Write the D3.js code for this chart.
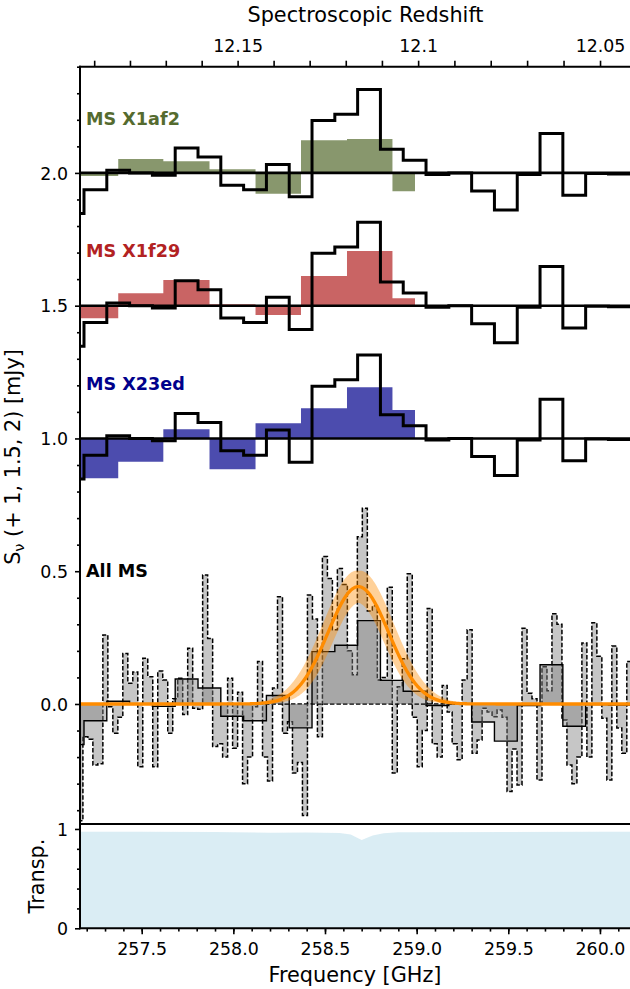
<!DOCTYPE html>
<html lang="en">
<head>
<meta charset="UTF-8">
<script src="https://d3js.org/d3.v7.min.js"></script>
<title>Stacked spectrum</title>
<style>
    body { margin: 0; background: #fff; }
    text { font-family: "DejaVu Sans", sans-serif; }
</style>
</head>
<body>
<div id="chart"></div>
<script>
// ---- data ----
// stacked spectrum, coarse bins (mJy)
const binStart = 257.0608, binWidth = 0.1244;
const stackBinned = [-0.153, -0.063, 0.01, 0.0, -0.009, 0.094, 0.06, -0.046, -0.063, 0.032,
    -0.09, 0.197, 0.221, 0.314, 0.089, 0.048, -0.006, 0.0, -0.068, -0.14,
    -0.006, 0.148, -0.084, -0.002, -0.004];

// individual sources (coarser bins, stop at ~259 GHz)
const srcEdges = [257.124, 257.372, 257.618, 257.870, 258.121, 258.369, 258.620, 258.868, 258.991];
const srcNames = ["MS X1af2", "MS X1f29", "MS X23ed"];
const srcOffsets = [2.0, 1.5, 1.0];
const srcColors = ["#556b2f", "#b22222", "#00008b"];
const fluxX1af2 = [-0.012, 0.052, 0.044, 0.014, -0.078, 0.123, 0.128, -0.069];
const fluxX1f29 = [-0.047, 0.047, 0.097, 0.005, -0.035, 0.112, 0.206, 0.028];
const fluxX23ed = [-0.15, -0.088, 0.035, -0.116, 0.057, 0.114, 0.193, 0.107];

// stacked spectrum at native channel width
const fineStart = 257.1520, fineWidth = 0.027223;
const stackFine = [-0.44, -0.123, -0.133, -0.23, -0.225, 0.26, -0.01, -0.11, -0.05, 0.19,
    0.078, 0.12, -0.236, 0.172, 0.103, -0.236, 0.124, 0.09, -0.11, 0.02,
    0.097, -0.04, 0.21, -0.016, -0.02, 0.486, 0.247, -0.16, -0.15, -0.2,
    0.097, -0.167, 0.044, -0.3, -0.2, -0.01, 0.16, -0.2, -0.29, 0.06,
    0.404, -0.11, -0.067, -0.26, -0.22, -0.42, 0.41, 0.32, -0.123, 0.555,
    0.473, 0.28, 0.51, 0.45, 0.2, 0.11, 0.63, 0.737, 0.35, 0.37,
    0.09, 0.1, 0.44, -0.26, 0.065, 0.17, 0.49, -0.05, -0.236, -0.1,
    0.36, -0.15, -0.2, 0.07, -0.03, -0.15, -0.21, 0.09, 0.28, -0.186,
    -0.136, -0.016, -0.03, -0.048, -0.023, -0.05, -0.33, -0.17, -0.305, 0.285,
    0.04, 0.02, -0.286, 0.14, 0.05, 0.34, 0.30, -0.06, -0.23, -0.3,
    -0.2, 0.23, -0.2, 0.306, 0.18, -0.054, -0.286, 0.218, -0.09, -0.186,
    0.16];

// gaussian fit to the stack and its spread
const fitAmp = 0.442, fitMu = 258.682, fitSigma = 0.166;
const errAmp = 0.06, errMu = 0.009, errSigma = 0.017;

// atmospheric transmission
const transFreq = [257.0, 257.5, 257.9, 258.0, 258.2, 258.4, 258.58, 258.64, 258.70, 258.76, 258.82, 258.9, 259.0, 259.5, 260.0, 260.3];
const transVal = [0.972, 0.972, 0.970, 0.968, 0.963, 0.965, 0.960, 0.945, 0.889, 0.935, 0.958, 0.966, 0.968, 0.970, 0.971, 0.971];

const restFreq = 3393.006; // [OIII] 88um, GHz
const zTicks = [12.19, 12.18, 12.17, 12.16, 12.15, 12.14, 12.13, 12.12, 12.11, 12.1, 12.09, 12.08, 12.07, 12.06, 12.05, 12.04];
const zLabels = [12.15, 12.1, 12.05];

// ---- layout ----
const width = 630, height = 989;
const left = 80, right = 651;
const mainTop = 66.7, mainBottom = 824, transBottom = 928.3;

const x = d3.scaleLinear().domain([257.1634, 257.1634 + (right - left) / 183.3]).range([left, right]);
const y = d3.scaleLinear().domain([-0.452, 2.4]).range([mainBottom, mainTop]);
const yT = d3.scaleLinear().domain([0, 1.05]).range([transBottom, mainBottom]);

const svg = d3.select("#chart").append("svg")
    .attr("width", width)
    .attr("height", height);

svg.append("clipPath").attr("id", "clipMain")
    .append("rect").attr("x", left).attr("y", mainTop).attr("width", right - left).attr("height", mainBottom - mainTop);
svg.append("clipPath").attr("id", "clipT")
    .append("rect").attr("x", left).attr("y", mainBottom).attr("width", right - left).attr("height", transBottom - mainBottom);

function stepPoints(edges, vals) {
    const pts = [];
    vals.forEach((v, i) => { pts.push([edges[i], v]); pts.push([edges[i + 1], v]); });
    return pts;
}
const binEdges = d3.range(stackBinned.length + 1).map(i => binStart + i * binWidth);
const fineEdges = d3.range(stackFine.length + 1).map(i => fineStart + i * fineWidth);

const plot = svg.append("g").attr("clip-path", "url(#clipMain)");

// individual sources with the stack on top
const srcFlux = [fluxX1af2, fluxX1f29, fluxX23ed];
srcFlux.forEach((flux, s) => {
    const off = srcOffsets[s];
    plot.append("path")
        .datum(stepPoints(srcEdges, flux))
        .attr("d", d3.area().x(d => x(d[0])).y0(y(off)).y1(d => y(d[1] + off)))
        .attr("fill", srcColors[s])
        .attr("fill-opacity", 0.7);
    plot.append("line")
        .attr("x1", left).attr("x2", right)
        .attr("y1", y(off)).attr("y2", y(off))
        .attr("stroke", "#000").attr("stroke-width", 2.6);
    plot.append("path")
        .datum(stepPoints(binEdges, stackBinned))
        .attr("d", d3.line().x(d => x(d[0])).y(d => y(d[1] + off)))
        .attr("fill", "none")
        .attr("stroke", "#000")
        .attr("stroke-width", 3)
        .attr("stroke-linejoin", "miter");
    svg.append("text")
        .attr("x", 86).attr("y", [125, 257, 390][s])
        .attr("font-size", 17.6).attr("font-weight", "bold")
        .attr("fill", srcColors[s])
        .text(srcNames[s]);
});

// all MS stack
plot.append("path")
    .datum(stepPoints(fineEdges, stackFine))
    .attr("d", d3.area().x(d => x(d[0])).y0(y(0)).y1(d => y(d[1])))
    .attr("fill", "#808080").attr("fill-opacity", 0.45)
    .attr("stroke", "#000").attr("stroke-width", 1.5)
    .attr("stroke-dasharray", "4.5,2");
plot.append("path")
    .datum(stepPoints(binEdges, stackBinned))
    .attr("d", d3.area().x(d => x(d[0])).y0(y(0)).y1(d => y(d[1])))
    .attr("fill", "#808080").attr("fill-opacity", 0.45);
plot.append("path")
    .datum(stepPoints(binEdges, stackBinned))
    .attr("d", d3.line().x(d => x(d[0])).y(d => y(d[1])))
    .attr("fill", "none").attr("stroke", "#000").attr("stroke-width", 1.4);

const gauss = (f, a, m, s) => a * Math.exp(-0.5 * ((f - m) / s) ** 2);
const fGrid = d3.range(257.1, 260.3, 0.004);
const band = fGrid.map(f => {
    const vals = [];
    [-1, 1].forEach(da => [-1, 1].forEach(dm => [-1, 1].forEach(ds => {
        vals.push(gauss(f, fitAmp + da * errAmp, fitMu + dm * errMu, fitSigma + ds * errSigma));
    })));
    return { f: f, lo: d3.min(vals), hi: d3.max(vals) };
});
plot.append("path")
    .datum(band)
    .attr("d", d3.area().x(d => x(d.f)).y0(d => y(d.lo)).y1(d => y(d.hi)))
    .attr("fill", "#ff8c00").attr("fill-opacity", 0.4);
plot.append("path")
    .datum(fGrid)
    .attr("d", d3.line().x(f => x(f)).y(f => y(gauss(f, fitAmp, fitMu, fitSigma))))
    .attr("fill", "none").attr("stroke", "#ff8c00").attr("stroke-width", 3.3);

svg.append("text")
    .attr("x", 86).attr("y", 577)
    .attr("font-size", 17.6).attr("font-weight", "bold")
    .text("All MS");

// transmission panel
svg.append("g").attr("clip-path", "url(#clipT)")
    .append("path")
    .datum(d3.zip(transFreq, transVal))
    .attr("d", d3.area().x(d => x(d[0])).y0(yT(0)).y1(d => yT(d[1])))
    .attr("fill", "#add8e6").attr("fill-opacity", 0.45);

// ---- axes ----
function styleAxis(g, fs) {
    g.select(".domain").remove();
    g.selectAll(".tick line").attr("stroke", "#000").attr("stroke-width", 1.6);
    g.selectAll(".tick text").attr("font-size", fs).attr("fill", "#000")
        .attr("font-family", "DejaVu Sans, sans-serif");
}

// main left
svg.append("g").attr("transform", `translate(${left},0)`)
    .call(d3.axisLeft(y).tickValues(d3.range(-0.4, 2.41, 0.1).filter(v => Math.abs(v * 2 - Math.round(v * 2)) > 0.01)).tickSize(3).tickFormat(""))
    .call(g => styleAxis(g, 17.4));
svg.append("g").attr("transform", `translate(${left},0)`)
    .call(d3.axisLeft(y).tickValues([0, 0.5, 1, 1.5, 2]).tickSize(5).tickPadding(7).tickFormat(d3.format(".1f")))
    .call(g => styleAxis(g, 17.4))
    .call(g => g.selectAll(".tick text").attr("dy", "0.36em"));

// top: redshift
svg.append("g").attr("transform", `translate(0,${mainTop})`)
    .call(d3.axisTop(x).tickValues(zTicks.map(z => restFreq / (1 + z))).tickSize(6).tickPadding(9)
        .tickFormat(f => {
            const z = restFreq / f - 1;
            const hit = zLabels.find(l => Math.abs(l - z) < 0.002);
            return hit === undefined ? "" : String(hit);
        }))
    .call(g => styleAxis(g, 17.4));

// transmission left
svg.append("g").attr("transform", `translate(${left},0)`)
    .call(d3.axisLeft(yT).tickValues([0.2, 0.4, 0.6, 0.8]).tickSize(3).tickFormat(""))
    .call(g => styleAxis(g, 17.4));
svg.append("g").attr("transform", `translate(${left},0)`)
    .call(d3.axisLeft(yT).tickValues([0, 1]).tickSize(5).tickPadding(7).tickFormat(d3.format("d")))
    .call(g => styleAxis(g, 17.4))
    .call(g => g.selectAll(".tick text").attr("dy", "0.36em"));

// bottom frequency
svg.append("g").attr("transform", `translate(0,${transBottom})`)
    .call(d3.axisBottom(x).tickValues(d3.range(257.2, 260.25, 0.1)).tickSize(3.3).tickFormat(""))
    .call(g => styleAxis(g, 17.4));
svg.append("g").attr("transform", `translate(0,${transBottom})`)
    .call(d3.axisBottom(x).tickValues([257.5, 258.0, 258.5, 259.0, 259.5, 260.0]).tickSize(6).tickPadding(8.4).tickFormat(d3.format(".1f")))
    .call(g => styleAxis(g, 17.4));

// spines
const spines = [
    [left, mainTop, right, mainTop],
    [left, mainBottom, right, mainBottom],
    [left, transBottom, right, transBottom],
    [left, mainTop, left, transBottom]
];
svg.selectAll("line.spine").data(spines).enter().append("line")
    .attr("class", "spine")
    .attr("x1", d => d[0]).attr("y1", d => d[1])
    .attr("x2", d => d[2]).attr("y2", d => d[3])
    .attr("stroke", "#000").attr("stroke-width", 2)
    .attr("stroke-linecap", "square");

// axis titles
svg.append("text")
    .attr("x", 365.5).attr("y", 22)
    .attr("text-anchor", "middle").attr("font-size", 20.8)
    .text("Spectroscopic Redshift");
svg.append("text")
    .attr("x", 355).attr("y", 982)
    .attr("text-anchor", "middle").attr("font-size", 20.8)
    .text("Frequency [GHz]");
svg.append("text")
    .attr("transform", "translate(43.5,876) rotate(-90)")
    .attr("text-anchor", "middle").attr("font-size", 20.8)
    .text("Transp.");
const ylab = svg.append("text")
    .attr("transform", "translate(20,457) rotate(-90)")
    .attr("text-anchor", "middle").attr("font-size", 20.8);
ylab.append("tspan").text("S");
ylab.append("tspan").attr("font-size", 14.5).attr("dy", 3.5).text("ν");
ylab.append("tspan").attr("dy", -3.5).text(" (+ 1, 1.5, 2) [mJy]");
</script>
</body>
</html>
